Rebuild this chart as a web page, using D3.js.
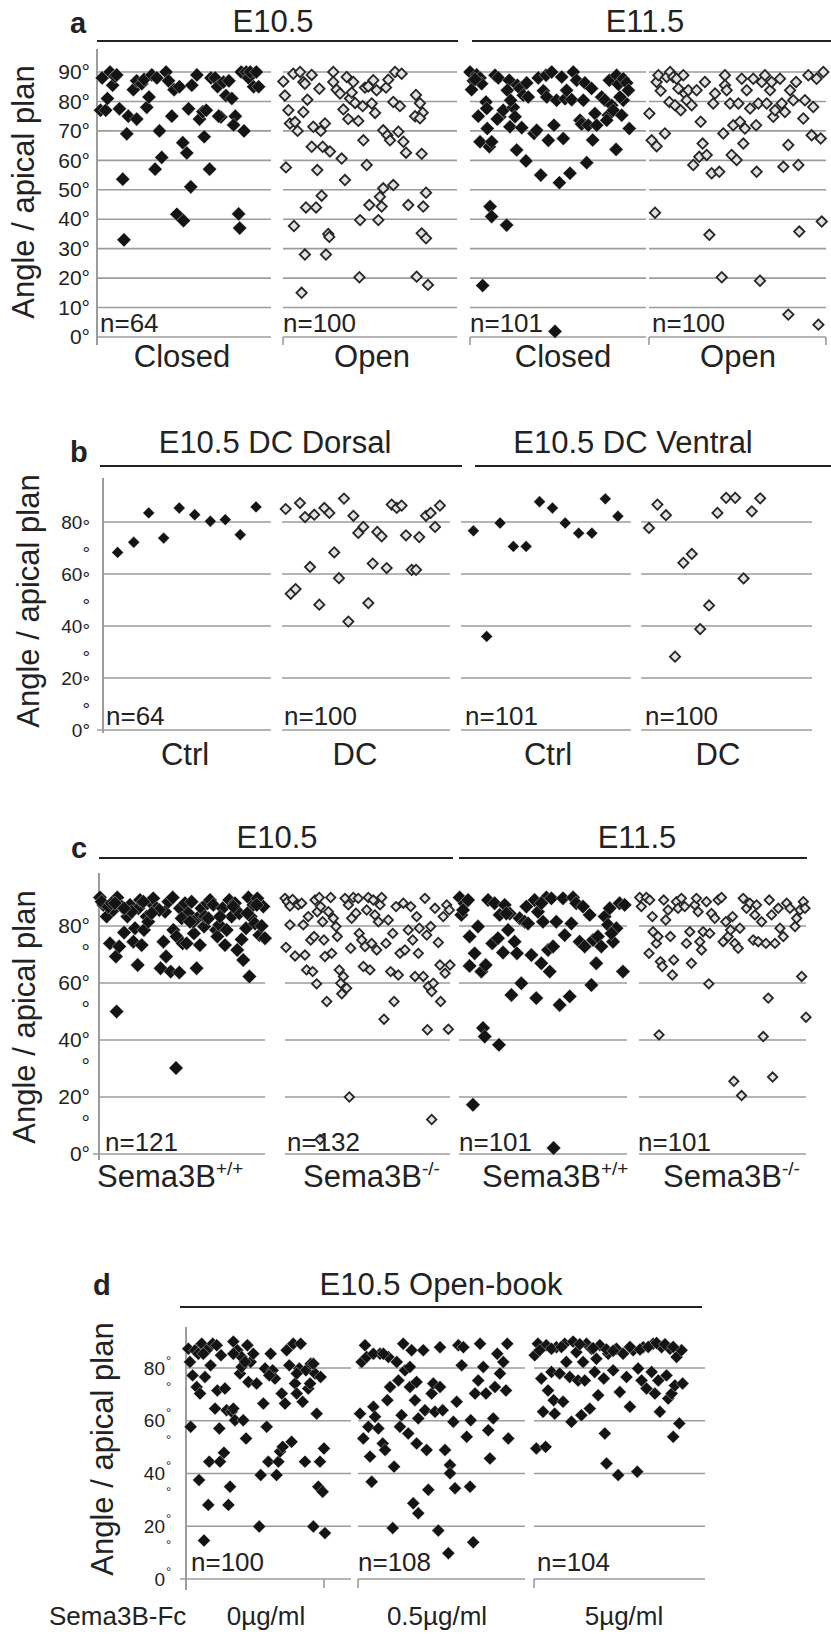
<!DOCTYPE html>
<html><head><meta charset="utf-8">
<script src="https://cdn.jsdelivr.net/npm/d3@7"></script>
<style>
body{margin:0;background:#fff}
svg{display:block}
text{font-family:"Liberation Sans",Arial,Helvetica,sans-serif;fill:#222}
</style>
</head><body>
<svg id="chart" width="831" height="1634"></svg>
<script>
// ---------------- DATA ----------------
// each point: [horizontal jitter position within its group (0-100), angle in degrees]
const panelLetters = ["a", "b", "c", "d"];
const yTitle = "Angle / apical plan";

// Panel a
const aTitles = ["E10.5", "E11.5"];
const aCategories = ["Closed", "Open", "Closed", "Open"];
const aCounts = ["n=64", "n=100", "n=101", "n=100"];
const aTicks = [0, 10, 20, 30, 40, 50, 60, 70, 80, 90];
const aE105Closed = [[2,77],[3,88],[5,77],[6,81],[7.5,90],[9,85.5],[10.4,88.5],[11.3,89],[12.9,77.5],[14.8,53.6],[15.5,33],[17.1,69],[18,75],[20.9,84],[22.8,74],[22.8,87],[25.7,86],[27.1,87.5],[28.6,78],[29.9,81.5],[31.5,89],[33.4,57],[34.4,88],[35.9,70],[37.2,61],[39.7,90],[41.1,87],[43,75],[44.3,84],[45.9,41.7],[47.4,85],[49.3,66],[51.6,62.5],[53.9,51],[49.7,39.5],[52.6,77.5],[54.5,85.5],[57.4,89],[58.9,74],[60.8,76.5],[61.6,68],[62.8,77],[64.7,57],[65.5,88],[67.9,88],[69.3,85],[71.2,74.7],[72.7,86.6],[74.1,82],[75.8,87],[77.5,81],[79.5,75],[81.4,41.8],[82,37],[82.9,90],[84.5,70],[85.8,90],[87.1,88],[88.1,90],[90,85],[91.6,90],[92.9,85],[78.5,72],[69.9,75]];
const aE105Open = [[0.2,86.8],[1.1,82],[3.1,77],[4,72.5],[5.9,89.4],[6.9,73],[8.4,70],[1.7,57.6],[6.3,37.7],[9.8,90],[10.7,15],[11.7,86.6],[11.7,76.4],[12.6,86],[14,80.6],[13.2,44],[12.6,28],[16.5,89],[16.5,64.6],[17.4,71.4],[19,44],[19.7,56.7],[20.9,84.3],[21.7,70],[22.2,48],[22.8,64.6],[24.1,72.5],[24.7,28],[26,35],[26.6,34],[27,63],[28.9,90],[28.9,86.6],[30.8,84],[32.8,82.7],[33.7,60.6],[34.7,77.3],[35.6,53.3],[36.6,88.3],[37.5,74],[38.5,81],[39.5,83],[40.4,86.6],[41.4,79.5],[43.3,73.4],[43.9,20.3],[44.3,39.7],[46.2,66.8],[45.8,78.4],[47.1,84.7],[48.1,58.4],[49.6,44.8],[49,85.1],[51,79.3],[51.9,87.2],[52.9,76.1],[53.8,83.8],[54.8,39.7],[55.7,47.6],[56.7,44.3],[57.6,50.5],[57.6,70.2],[59.2,84.7],[60,68.5],[60.5,87.4],[61.5,66.8],[63.4,51.6],[64.4,90],[63.4,79.8],[66.3,69.7],[68.2,89.4],[67.2,78.4],[69.2,66.3],[70.7,62.6],[72,44.8],[76.4,82.2],[78.7,79.4],[80.3,76.2],[75.9,75],[78.7,74.3],[79.7,62.2],[82.2,49],[80.6,44.3],[79.7,35.2],[82.2,33.5],[76.8,20.5],[83.3,17.7]];
const aE115Closed = [[0,90],[1.9,87],[0.9,84],[3.8,89],[5.7,88],[6.6,86],[4.7,75],[9.1,79.8],[9.8,70.8],[5.7,66.3],[11,64.6],[12.3,66.3],[14.2,88.9],[16.1,88],[17,74.8],[18.9,77],[22.3,87.2],[21.2,83.8],[22.7,71.4],[24.6,78],[25.6,74.8],[26.9,85.5],[28.4,84.4],[29.4,71.1],[30.3,82.1],[31.8,59.8],[32.2,86.3],[33.1,81.5],[36.4,69.1],[37.9,70.2],[38.8,88],[40.2,55],[41.7,83.6],[43.2,88.9],[43.6,81.5],[44.5,66.8],[46.4,90],[47.7,71.9],[49.2,80.4],[50.8,52.4],[52.1,88.3],[53,67.4],[54,80.9],[56.8,55.6],[58.7,90],[57.8,80.6],[60.6,87.2],[62.5,73.6],[63.4,72.3],[65.3,86.3],[66.3,59.2],[67.2,71.9],[69.1,84.4],[69.7,66.9],[71,75.9],[72,71.9],[74.8,81.5],[76.7,80.4],[78.6,75.3],[79.2,87.2],[80.5,78.7],[81.4,77],[83,63.7],[83.3,88.9],[84.3,85.8],[87.1,87.7],[89,86.3],[90,83.8],[90.5,70.8],[86.2,75.3],[87.1,80.4],[11.4,44.3],[12.3,40.9],[20.8,38],[7.2,17.5],[48.3,1.9],[2.8,87.5],[9.5,77.6],[15.5,74],[23.1,80.4],[26.5,63.5],[54.9,83.8],[64.4,80.4],[77.7,73.6],[85.2,81.5]];
const aE115Open = [[0.2,75.9],[1.5,66.8],[4.3,64.8],[3.4,42.2],[4.3,86.6],[5.3,88.9],[6.6,83.6],[9,69.1],[10,88.3],[11.9,90],[11.5,79.8],[13.7,88.3],[14.7,78.7],[15.6,87.7],[16.6,84.4],[17.9,77],[19.4,88.9],[20.3,82.7],[21.3,80.4],[22.2,83.8],[24.1,78.7],[25,58.4],[26.9,83.8],[28.4,61.2],[29.2,73.1],[30.3,65.7],[31.6,86.6],[32.6,61.8],[34.1,34.7],[35.4,55.6],[36.3,79.3],[37.3,82.7],[39.7,56.1],[41.1,20.3],[42,69.1],[42.9,88.9],[42.9,85.5],[43.9,83.8],[45.8,79.3],[46.7,61.8],[47.6,71.9],[49.5,60.1],[50.5,79.3],[51.4,73.1],[52.4,87.7],[53.3,65.7],[54.2,70.8],[55.2,83.8],[57.1,77.6],[58.9,87.7],[60.5,71.9],[60.8,56.1],[61.8,79.3],[62.7,19.1],[63.7,86.6],[65.5,88.9],[66.5,79.3],[68.4,83.8],[69.3,86.6],[70.2,74.8],[71.2,77],[74,87.7],[75,79.3],[75.9,57.8],[76.8,76.4],[78.7,65.2],[78.7,7.6],[79.7,83.8],[81.5,80.4],[83.1,86.6],[84.4,58.4],[84.9,35.8],[87.2,74.2],[88.1,80.4],[90,88.9],[91.9,68.5],[92.8,78.1],[94.7,87.7],[95.7,4.2],[97,67.4],[97.6,39.2],[98.5,90]];

// Panel b
const bTitles = ["E10.5 DC Dorsal", "E10.5 DC Ventral"];
const bCategories = ["Ctrl", "DC", "Ctrl", "DC"];
const bCounts = ["n=64", "n=100", "n=101", "n=100"];
const bTicks = [0, 10, 20, 30, 40, 50, 60, 70, 80];
const bDorsalCtrl = [[8.7,68.3],[18.3,72.2],[27.2,83.5],[36.1,73.8],[45.4,85.4],[54.6,82.8],[63.9,80.3],[72.8,80.9],[81.7,75.1],[91.1,85.8]];
const bDorsalDC = [[2.2,85],[5.2,52.4],[8.1,54.2],[10.7,87.3],[13.7,81.9],[16.7,62.7],[19.2,82.8],[22.2,48.2],[25.2,85.4],[28.2,83.5],[31.1,68.3],[33.9,58.4],[36.9,89],[39.5,41.7],[42.5,82.4],[45.4,75.8],[48.4,78.1],[51.4,48.8],[54,64],[56.7,76.2],[59.3,74.5],[62.3,62.3],[65.3,86.7],[68.3,85.4],[71.2,86.3],[73.8,74.9],[77.2,61.6],[79.8,61.6],[81.7,74.2],[85.7,82.4],[88.5,83.5],[91.1,78.1],[94,86.3]];
const bVentralCtrl = [[7.3,76.6],[15.1,36],[23,79.6],[30.8,70.6],[38.3,70.6],[46.2,87.8],[53.8,85.4],[61.3,79.6],[69.2,75.7],[77,75.7],[84.9,88.9],[92.3,82.2]];
const bVentralDC = [[4.7,77.7],[9.6,86.7],[14.6,82.6],[19.9,28.2],[24.8,64.3],[29.7,67.7],[34.6,38.8],[39.8,47.9],[44.7,83.5],[49.8,89.3],[55.1,89.3],[60,58.3],[64.8,84.1],[69.7,89.1]];

// Panel c
const cTitles = ["E10.5", "E11.5"];
const cCategoryBase = ["Sema3B", "Sema3B", "Sema3B", "Sema3B"];
const cGenotypes = ["+/+", "-/-", "+/+", "-/-"];
const cCounts = ["n=121", "n=132", "n=101", "n=101"];
const cTicks = [0, 10, 20, 30, 40, 50, 60, 70, 80];
const cE105WT = [[0.6,90],[2.6,87.4],[4.6,83.3],[6.6,73.9],[8.6,85.6],[10.2,69.3],[10.6,50],[11,90],[12.2,72.8],[13.7,86.8],[15.1,77.7],[17.1,83.3],[18.7,87.4],[20.7,74.5],[21.7,79.2],[23.3,66.3],[23.7,86.2],[25.7,73.3],[27.1,78.6],[28.7,83.3],[29.7,81.5],[31.7,88],[32.7,89.7],[34.7,86.2],[37.1,65.2],[38.8,74.5],[39.8,85],[40.4,69.3],[41.8,88.5],[43.2,64],[44.4,90],[44.8,78.6],[46.4,30.2],[46.8,76.3],[48.4,63.7],[48.8,86.2],[50.4,73.9],[51.8,88],[52.8,73.9],[53.8,84.5],[55.8,88.5],[57.2,77.4],[58.8,65.2],[59.2,82.7],[60.8,73.3],[61.8,86.2],[63.3,79.8],[65.3,88],[66.9,89.1],[68.9,87.4],[70.5,78.6],[71.3,76.3],[72.5,80.4],[74.5,86.2],[75.9,73.3],[76.9,78.6],[78.5,89.1],[79.9,83.3],[81.9,88],[83.3,71.6],[84.5,84.5],[85.9,75.3],[86.9,68.1],[88.6,79.2],[90,90],[90.6,62.3],[91.4,83.3],[93,87.4],[94,80.9],[95.4,89.7],[96.6,76.8],[98,80],[99,86.8],[100,75.7],[1.6,88.5],[5.6,86.8],[7.6,88],[19.7,85],[24.7,89.1],[26.7,88.5],[36.3,85.6],[56.8,81.5],[63.9,83.3],[65.9,82.7],[72.9,83.3],[80.9,86.8],[89.4,84.5],[95,87.4],[9.6,88],[15.1,86.2],[31.7,84.5],[49.8,82.7],[54.8,81.5]];
const cE105KO = [[0,89.7],[1.4,88.5],[3,87],[3,80.4],[0.6,72.5],[4.6,89.3],[6.1,69.5],[8.1,87.4],[10.1,88],[11.1,80.4],[12.1,69.8],[13.1,64.6],[14.1,83.3],[15.6,75.1],[16.8,64],[17.6,76.3],[18.2,89.1],[19.2,59.7],[19.6,85],[20.8,90],[21.6,86.8],[22.8,81.5],[23.6,75.1],[24.2,69.3],[25.3,53.5],[26.3,85],[27.7,90],[28.3,70.4],[29.3,82.7],[30.9,79.8],[31.7,76.3],[32.9,64.6],[33.8,59.9],[34.4,56.2],[35.4,62.3],[36.4,89.7],[37.4,58.2],[38.4,87.4],[39,20],[39.8,72.2],[40.4,82.7],[41.4,90],[43,84.5],[44.4,89.7],[45,77.4],[46.5,75.1],[47.5,65.8],[48.5,72.8],[49.5,85.6],[50.5,90],[51.5,64.6],[52.5,73.9],[53.5,89.1],[54.5,83.9],[55.6,71.6],[56.6,81.5],[57.6,87.4],[58.6,90],[60,47.3],[61.2,73.9],[62.6,82.1],[64,64],[65.3,77.4],[66.1,53.5],[67.3,86.8],[68.7,62.8],[69.7,70.4],[71.7,88],[72.7,71.6],[74.7,78.6],[76.2,86.8],[77.4,75.1],[78.8,62.3],[79.8,83.3],[80.8,70.4],[21.2,5.1],[81.4,79.2],[84.8,89.7],[85.9,76.8],[88.3,79.8],[90.9,86.2],[92.9,74.2],[93.9,66.3],[95.9,83.3],[97,63.4],[98,87.4],[100,66.3],[99.6,85.6],[83.8,62.3],[86.9,58.8],[88.9,57],[89.9,59.9],[94.3,53.5],[86.3,43.6],[99,43.8],[88.9,12.1]];
const cE115WT = [[0.4,90],[1.4,83.9],[3.4,87.9],[5.4,89.1],[6.3,76.3],[9.3,70.4],[11.3,79.8],[6.3,66],[13.3,64],[15.9,66.3],[17.3,89.1],[19.8,73.9],[21.2,88],[23.2,75.7],[24.2,83.9],[26.2,70.7],[27.2,87.4],[29.2,78.6],[30.2,84.4],[31.2,55.8],[33.1,74.5],[34.5,70.4],[36.1,82.7],[37.1,59.9],[39.1,81.5],[40.1,86.8],[43.1,69.8],[45,89.1],[46,54.7],[47,85],[49,66.9],[50,81.5],[52,90],[53,71.6],[54,64],[55,89.7],[56,72.8],[57.9,81.5],[59.9,52.3],[61.9,89.7],[62.9,76.8],[65.9,55.3],[66.9,80.9],[67.9,90],[69.8,88],[71.8,74.5],[73.8,86.8],[74.8,72.8],[77.8,83.9],[78.8,59.3],[79.8,75.1],[81.7,66.9],[82.7,76.3],[84.7,72.8],[86.7,83.3],[88.7,80.4],[89.7,86.2],[91.7,74.5],[93.7,79.2],[95.6,88],[97.6,64],[98.6,87.4],[14.3,44.2],[15.3,41.2],[23.8,38.3],[8.3,17.3],[56.3,2.1],[2.4,85.6],[28.2,84.4],[41.1,80.9],[49,88],[90.7,77.4]];
const cE115KO = [[0.4,90],[1.4,86.8],[4.4,90],[6,70.4],[6.4,89.1],[8,83.3],[8.4,78],[10.4,73.9],[11.4,76.3],[12,41.8],[12.8,67.5],[14,65.8],[14.8,89.1],[16,82.1],[17.4,85.6],[18.8,76.3],[20,62.8],[20.8,68.1],[22.4,88.5],[23.4,86.2],[25.4,89.7],[27.4,86.8],[28.4,73.9],[30.4,78],[31.4,66.9],[33.4,87.4],[34.4,89.7],[35.4,85],[36.4,74.5],[37.4,71.6],[38.4,78],[40.4,88.5],[41.8,59.7],[42.4,77.4],[43.4,84.4],[45.4,82.7],[47.4,89.1],[49.4,90],[50.4,74.5],[52,81.5],[53.4,76.3],[54.8,78.6],[56,83.3],[56.8,25.5],[57.4,73.9],[59.4,72.2],[60.4,79.2],[61.4,20.5],[62.4,89.7],[64.4,86.2],[66.4,88],[68.4,75.1],[69.4,83.9],[70.4,87.4],[71.4,74.5],[73.4,81.5],[74.4,41.2],[76,73.9],[77.4,54.7],[78,89.1],[79.4,83.9],[80,27],[81.4,73.9],[83.4,86.2],[84.4,79.2],[86.4,76.3],[88.4,88],[90.4,86.2],[93.4,79.8],[94.4,82.7],[96.4,85.6],[97.4,62.3],[98.4,88.5],[99.4,86.2],[100,48]];

// Panel d
const dTitle = "E10.5 Open-book";
const dAxisName = "Sema3B-Fc";
const dCategories = ["0µg/ml", "0.5µg/ml", "5µg/ml"];
const dCounts = ["n=100", "n=108", "n=104"];
const dTicks = [0, 10, 20, 30, 40, 50, 60, 70, 80];
const dDose0 = [[1.4,87.3],[2.4,82.3],[2.8,57.7],[4,77.2],[5.5,86.7],[6.5,72.8],[7.9,37.5],[8.5,70.3],[9.5,89.2],[10.9,14.6],[11.5,76.6],[12.5,86.7],[13.5,28.1],[14.1,44.5],[14.9,81],[16.2,89.2],[17.6,64.6],[19,71.5],[20.2,57.1],[20.6,44.5],[21.2,84.8],[23,47.9],[23.6,72.2],[24.6,64],[25.7,28.1],[26.7,35],[27.7,63.4],[28.7,90],[29.7,60.2],[31.1,86.7],[32.7,77.9],[33.7,84.2],[34.7,60.2],[36.4,53.3],[37.2,88.6],[37.8,74.7],[39.2,82.3],[40.8,85.4],[42.8,74.1],[44.4,19.9],[45.3,39.4],[46.9,66.5],[47.9,79.8],[48.9,57.7],[49.9,44.5],[51.3,85.4],[52.5,79.1],[53.9,76],[54.9,39.4],[56,44.5],[57,48.3],[58,70.3],[58.6,50.1],[60,66.5],[61,86.7],[62.6,81],[64,52],[65,89.2],[66.1,74.1],[67.1,70.3],[68.7,79.8],[69.5,89.2],[70.7,67.2],[72.1,44.5],[72.7,79.1],[74.1,72.2],[75.6,81.6],[77.2,19.9],[78.2,77.9],[79.2,62.7],[80.2,35],[81.2,44.5],[81.6,76.6],[82.8,33.1],[83.6,49.5],[84.2,17.4],[7.5,85.4],[10.5,85.4],[28.7,64.6],[33.7,80.4],[35.8,82.3],[50.5,77.2],[67.1,77.9],[75.2,74.1],[77.2,81.6],[18.6,88.6],[28.7,85.4]];
const dDose05 = [[1.2,62.7],[2.2,82.3],[3.2,53.3],[4.2,88.6],[6.2,57.7],[7.2,46.4],[8.2,36.9],[9.2,65.3],[10.2,61.5],[12.2,57.1],[13.2,85.4],[14.8,51.4],[16.2,48.9],[17.6,67.8],[18.2,84.2],[19.2,72.8],[20.8,19.3],[21.6,42.6],[23.2,82.3],[24.2,75.3],[25.1,57.7],[26.1,62.1],[27.1,89.2],[28.1,79.1],[30.1,55.2],[31.1,72.8],[32.1,86.7],[33.1,28.7],[34.1,67.8],[35.1,51.4],[36.1,24.9],[36.1,60.9],[5.2,84.2],[9.2,85.4],[15.2,85.4],[31.1,80.4],[35.1,74.7],[39.1,86.7],[40.1,64],[42.1,33.8],[41.1,48.9],[44.1,70.3],[45.1,74.1],[46.1,63.4],[48.1,18.4],[49.1,87.9],[49.1,72.8],[50.7,64],[52.1,48.9],[54.1,9.8],[55.1,43.2],[55.1,40.1],[57.1,59.6],[58.1,34.4],[59.1,67.2],[60.1,88.6],[62.1,81],[63.1,87.9],[65.1,53.9],[67.1,35],[67.5,60.2],[69,13.9],[70.1,70.3],[72,75.3],[73.1,89.2],[75,80.4],[76.6,70.3],[78,56.4],[79,45.7],[81,60.9],[82,72.8],[83.4,85.4],[85,77.9],[87,82.3],[88.6,71.5],[89.4,89.2],[90,53.3]];
const dDose5 = [[0.4,84.8],[1.4,49.5],[2.3,89.2],[4.3,76],[5.3,63.4],[6.8,50.1],[7.2,88.6],[8.2,71.5],[10.2,78.5],[11.5,67.8],[12.1,62.7],[13.1,87.9],[15,77.9],[17,67.2],[18,89.2],[18.9,82.3],[20.9,76.6],[21.9,59.6],[22.9,90],[24.8,86],[25.8,75.3],[27.7,62.1],[28.7,82.3],[29.7,75.3],[30.7,89.2],[32.6,64.6],[33.6,87.3],[35.5,78.5],[36.5,83.5],[37.5,69.7],[38.5,88.6],[40.8,76],[41.4,55.2],[42.4,43.8],[43.4,85.4],[46.3,79.1],[48.2,87.3],[49.2,39.4],[50.2,70.9],[52.1,85.4],[54.1,76.6],[56.1,65.3],[58,86.7],[60.4,40.7],[60.9,79.8],[62.9,75.3],[63.9,87.9],[65.8,72.2],[68.8,78.5],[69.7,89.2],[70.7,70.3],[72.7,75.3],[73.6,63.4],[74.6,87.9],[77.5,77.2],[78.5,68.4],[79.5,87.3],[80.5,70.3],[81.4,53.9],[82.4,73.4],[83.4,84.2],[85,59],[86.3,86.7],[86.9,74.1],[3.3,86.7],[10.2,87.3],[16,88],[26.8,89],[34.6,87.5],[42.4,87],[46.3,86.5],[56.1,88],[62,87],[66.8,88],[71.7,89.5],[76.6,89],[81.4,88]];

// ---------------- DRAWING ----------------
const svg = d3.select("#chart");
const FONT = '"Liberation Sans", Arial, Helvetica, sans-serif';
const GRID = "#9c9c9c";
const INK = "#222";

function txt(x, y, s, size, opts = {}) {
  return svg.append("text").attr("x", x).attr("y", y).text(s)
    .attr("font-size", size).attr("font-family", FONT)
    .attr("font-weight", opts.bold ? "bold" : "normal")
    .attr("text-anchor", opts.anchor || "start").attr("fill", opts.fill || INK);
}
function hline(x1, x2, y, color, w) {
  svg.append("line").attr("x1", x1).attr("x2", x2).attr("y1", y).attr("y2", y)
    .attr("stroke", color).attr("stroke-width", w);
}
function vline(x, y1, y2, color, w) {
  svg.append("line").attr("x1", x).attr("x2", x).attr("y1", y1).attr("y2", y2)
    .attr("stroke", color).attr("stroke-width", w);
}
function yTitleAt(x, y) {
  svg.append("text").attr("transform", `translate(${x},${y}) rotate(-90)`)
    .attr("text-anchor", "middle").attr("font-size", 31).attr("font-family", FONT)
    .attr("fill", INK).text(yTitle);
}
function points(data, xr, y, filled, size) {
  const x = d3.scaleLinear([0, 100], xr);
  const path = d3.symbol(d3.symbolSquare, size)();
  svg.append("g").selectAll("path").data(data).join("path")
    .attr("d", path)
    .attr("transform", d => `translate(${x(d[0])},${y(Math.min(d[1], 90))}) rotate(45)`)
    .attr("fill", filled ? "#141414" : "#e1e1e1")
    .attr("stroke", filled ? "#ffffff" : "#262626")
    .attr("stroke-width", filled ? 0.35 : 1.8);
}
function grid(groups, y, vals) {
  groups.forEach(g => vals.forEach(v => hline(g[0], g[1], y(v), GRID, 1.6)));
}
function axisTicks(ax, y, vals, fmt, pad, size) {
  const g = svg.append("g").attr("transform", `translate(${ax},0)`)
    .call(d3.axisLeft(y).tickValues(vals).tickFormat(fmt).tickSize(0).tickPadding(pad));
  g.select(".domain").remove();
  g.attr("font-family", FONT).attr("font-size", size);
  g.selectAll("text").attr("fill", "#2a2a2a");
  return g;
}

// ===== Panel a =====
{
  const y = d3.scaleLinear([0, 90], [337, 72]);
  const groups = [[97, 271], [283, 457], [470, 646], [649, 826]];
  txt(70, 33, panelLetters[0], 29, {bold: true});
  txt(273, 32, aTitles[0], 31, {anchor: "middle"});
  txt(645, 32, aTitles[1], 31, {anchor: "middle"});
  hline(97, 458, 41, INK, 2);
  hline(472, 831, 41, INK, 2);
  grid(groups, y, aTicks);
  vline(97, 49, 345, GRID, 2);
  vline(283, 337, 345, GRID, 1.6);
  vline(470, 337, 345, GRID, 1.6);
  vline(649, 337, 345, GRID, 1.6);
  vline(826, 337, 345, GRID, 1.6);
  axisTicks(97, y, aTicks, d => d + "°", 7, 21);
  yTitleAt(34, 192);
  points(aE105Closed, groups[0], y, true, 100);
  points(aE105Open, groups[1], y, false, 54);
  points(aE115Closed, groups[2], y, true, 100);
  points(aE115Open, groups[3], y, false, 54);
  [100, 283, 470, 652].forEach((x, i) => txt(x, 332, aCounts[i], 26));
  [182, 372, 563, 738].forEach((x, i) => txt(x, 367, aCategories[i], 31, {anchor: "middle"}));
}

// ===== Panel b =====
{
  const y = d3.scaleLinear([0, 80], [730, 522]);
  const groups = [[103, 271], [282, 450], [461, 631], [641, 812]];
  txt(70, 462, panelLetters[1], 29, {bold: true});
  txt(275, 453, bTitles[0], 31, {anchor: "middle"});
  txt(633, 453, bTitles[1], 31, {anchor: "middle"});
  hline(100, 462, 466, INK, 2);
  hline(475, 831, 466, INK, 2);
  grid(groups, y, [20, 40, 60, 80]);
  hline(97, 271, y(0), GRID, 1.6);
  groups.slice(1).forEach(g => hline(g[0], g[1], y(0), GRID, 1.6));
  vline(103, 478, 733, GRID, 2);
  const g = axisTicks(103, y, bTicks, d => d % 20 === 0 ? d + "°" : "°", 13, 19);
  g.selectAll("text").each(function(d) {
    const t = d3.select(this);
    if (d % 20 !== 0) { t.attr("dy", 11); }
    else if (d > 0) {
      t.text(null);
      t.append("tspan").text(String(d));
      t.append("tspan").attr("dy", 4).text("°");
    }
  });
  yTitleAt(39, 601);
  points(bDorsalCtrl, groups[0], y, true, 70);
  points(bDorsalDC, groups[1], y, false, 52);
  points(bVentralCtrl, groups[2], y, true, 70);
  points(bVentralDC, groups[3], y, false, 52);
  [106, 284, 465, 645].forEach((x, i) => txt(x, 725, bCounts[i], 26));
  [185, 355, 548, 718].forEach((x, i) => txt(x, 765, bCategories[i], 31, {anchor: "middle"}));
}

// ===== Panel c =====
{
  const y = d3.scaleLinear([0, 80], [1154, 926]);
  const groups = [[99, 265], [285, 450], [459, 627], [639, 806]];
  txt(71, 858, panelLetters[2], 29, {bold: true});
  txt(277, 848, cTitles[0], 31, {anchor: "middle"});
  txt(637, 848, cTitles[1], 31, {anchor: "middle"});
  hline(99, 453, 858, INK, 2);
  hline(459, 807, 858, INK, 2);
  grid(groups, y, [20, 40, 60, 80]);
  hline(93, 265, y(0), GRID, 1.6);
  groups.slice(1).forEach(g => hline(g[0], g[1], y(0), GRID, 1.6));
  vline(99, 873, 1160, GRID, 2);
  const g = axisTicks(99, y, cTicks, d => d % 20 === 0 ? d + "°" : "°", 9, 21);
  g.selectAll("text").filter(d => d % 20 !== 0).attr("dy", 3.6);
  yTitleAt(35, 1017);
  points(cE105WT, groups[0], y, true, 104);
  points(cE105KO, groups[1], y, false, 44);
  points(cE115WT, groups[2], y, true, 104);
  points(cE115KO, groups[3], y, false, 44);
  [105, 287, 459, 638].forEach((x, i) => txt(x, 1151, cCounts[i], 26));
  [97, 303, 482, 663].forEach((x, i) => {
    const t = txt(x, 1187, cCategoryBase[i], 31);
    t.append("tspan").attr("font-size", 19).attr("dy", -12).text(cGenotypes[i]);
  });
}

// ===== Panel d =====
{
  const y = d3.scaleLinear([0, 80], [1579, 1368]);
  const groups = [[186, 351], [358, 525], [534, 705]];
  txt(93, 1295, panelLetters[3], 29, {bold: true});
  txt(441, 1295, dTitle, 31, {anchor: "middle"});
  hline(180, 702, 1307, INK, 2);
  grid(groups, y, [20, 40, 60, 80]);
  hline(180, 351, y(0), GRID, 1.6);
  hline(358, 525, y(0), GRID, 1.6);
  hline(534, 705, y(0), GRID, 1.6);
  vline(186, 1327, 1590, GRID, 2);
  vline(324, 1579, 1588, GRID, 1.6);
  vline(358, 1579, 1588, GRID, 1.6);
  vline(534, 1579, 1588, GRID, 1.6);
  const g = axisTicks(186, y, dTicks, d => d % 20 === 0 ? String(d) : "", 21, 19);
  g.selectAll(".tick").append("text").attr("x", -20).attr("y", -4)
    .attr("text-anchor", "start").attr("font-size", 13).attr("fill", "#2a2a2a").text("°");
  yTitleAt(113, 1449);
  points(dDose0, groups[0], y, true, 84);
  points(dDose05, groups[1], y, true, 84);
  points(dDose5, groups[2], y, true, 84);
  [191, 358, 537].forEach((x, i) => txt(x, 1571, dCounts[i], 26));
  txt(49, 1625, dAxisName, 26);
  [266, 437, 624].forEach((x, i) => txt(x, 1625, dCategories[i], 26, {anchor: "middle"}));
}
</script>
</body></html>
